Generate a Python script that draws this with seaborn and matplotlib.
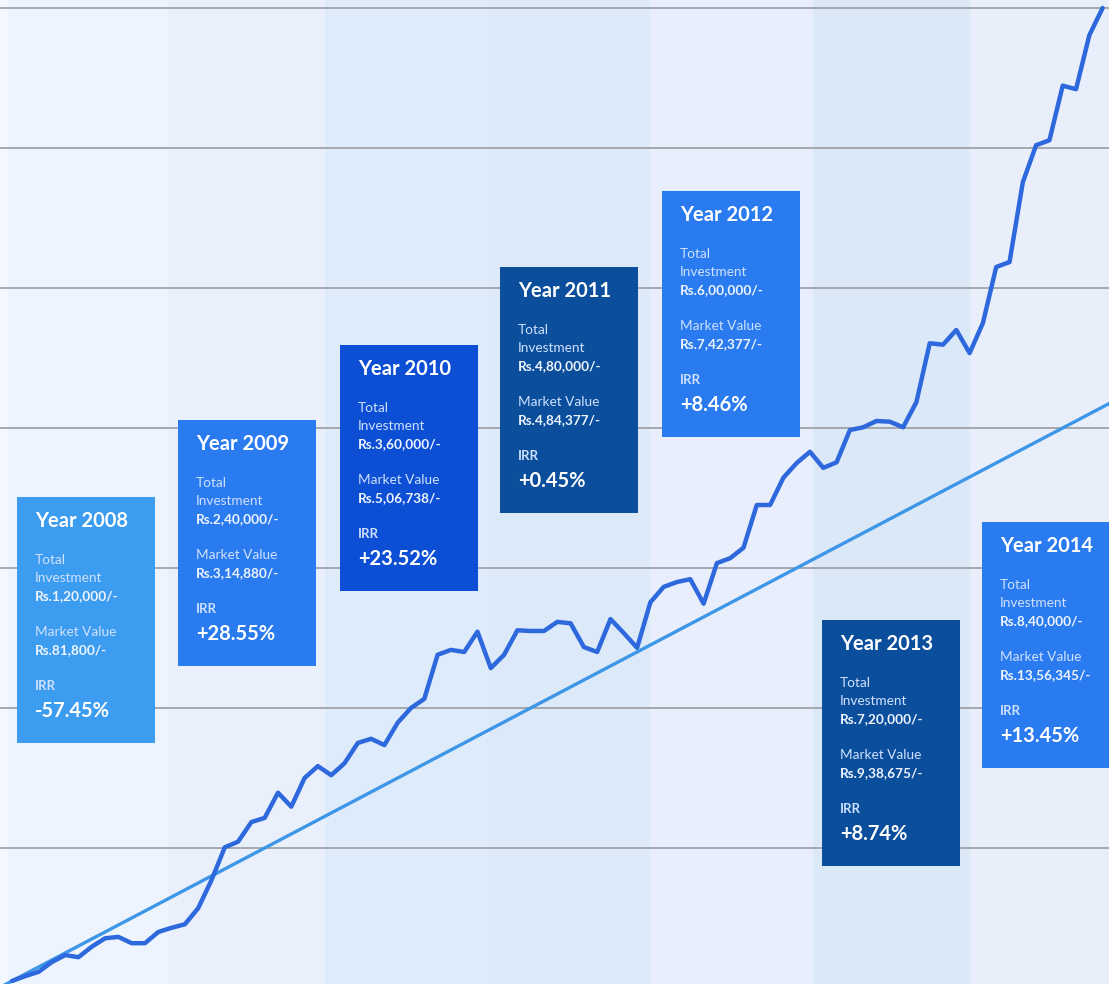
import numpy as np
import pandas as pd
import seaborn as sns
import matplotlib
matplotlib.use("Agg")
import matplotlib.pyplot as plt
from matplotlib.patches import Rectangle

# ---- data ---------------------------------------------------------------
years = [2008, 2009, 2010, 2011, 2012, 2013, 2014]

# cumulative SIP investment at each year end (Rs. lakh), month 0 .. 84
invest_months = [0, 12, 24, 36, 48, 60, 72, 84]
invest_lakh = [0.0, 1.2, 2.4, 3.6, 4.8, 6.0, 7.2, 8.4]

# monthly market value of the portfolio (Rs. lakh), months 1 .. 83
market_lakh = [
    0.10, 0.17, 0.23, 0.37, 0.47, 0.44, 0.59, 0.71, 0.73, 0.64, 0.64, 0.80,
    0.86, 0.91, 1.14, 1.54, 2.01, 2.09, 2.37, 2.43, 2.79, 2.59, 3.00, 3.17,
    3.04, 3.21, 3.50, 3.56, 3.47, 3.79, 4.00, 4.13, 4.76, 4.83, 4.80, 5.09,
    4.57, 4.76, 5.11, 5.10, 5.10, 5.23, 5.21, 4.87, 4.80, 5.27, 5.07, 4.86,
    5.51, 5.73, 5.80, 5.84, 5.49, 6.07, 6.14, 6.29, 6.90, 6.90, 7.29, 7.50,
    7.66, 7.43, 7.51, 7.97, 8.01, 8.10, 8.09, 8.01, 8.37, 9.21, 9.19, 9.40,
    9.07, 9.50, 10.30, 10.37, 11.51, 12.04, 12.11, 12.89, 12.84, 13.61, 14.00,
]
market_months = list(range(1, len(market_lakh) + 1))

total_investment = ["Rs.1,20,000/-", "Rs.2,40,000/-", "Rs.3,60,000/-", "Rs.4,80,000/-",
                    "Rs.6,00,000/-", "Rs.7,20,000/-", "Rs.8,40,000/-"]
market_value = ["Rs.81,800/-", "Rs.3,14,880/-", "Rs.5,06,738/-", "Rs.4,84,377/-",
                "Rs.7,42,377/-", "Rs.9,38,675/-", "Rs.13,56,345/-"]
irr = ["-57.45%", "+28.55%", "+23.52%", "+0.45%", "+8.46%", "+8.74%", "+13.45%"]

# ---- styling --------------------------------------------------------------
sns.set_theme(style="white")
plt.rcParams["font.family"] = ["Lato", "DejaVu Sans"]

W, H = 1109, 984
fig = plt.figure(figsize=(W / 100, H / 100), dpi=100)
ax = fig.add_axes([0, 0, 1, 1])
ax.set_facecolor("#f4f8fe")

x0, x1 = 0.1, 83.48
y0, y1 = 0.057, 14.114
ax.set_xlim(x0, x1)
ax.set_ylim(y0, y1)

# alternating year bands
band_edges = [0.7, 12.73, 24.5, 36.9, 49.0, 61.2, 73.0, 85.0]
band_colors = ["#eef4fd", "#e9f0fc", "#deebfa", "#dbe9f9", "#e8eefb", "#dbe8f8", "#e9eefb"]
for i, c in enumerate(band_colors):
    ax.axvspan(band_edges[i], band_edges[i + 1], color=c, lw=0, zorder=0)

# horizontal gridlines every 2 lakh
for g in range(2, 16, 2):
    ax.axhline(g, color="#9fa3a9", lw=1.3, zorder=1)

inv_df = pd.DataFrame({"month": invest_months, "value": invest_lakh})
mkt_df = pd.DataFrame({"month": market_months, "value": market_lakh})

sns.lineplot(data=inv_df, x="month", y="value", ax=ax, color="#3d96e6", lw=2.4, zorder=3)
sns.lineplot(data=mkt_df, x="month", y="value", ax=ax, color="#2d68dd", lw=3.2, zorder=4)

ax.set_xlabel("")
ax.set_ylabel("")
ax.set_xticks([])
ax.set_yticks([])
for s in ax.spines.values():
    s.set_visible(False)

# ---- info boxes -----------------------------------------------------------
box_pos = [(17, 497), (178, 420), (340, 345), (500, 267), (662, 191), (822, 620), (982, 522)]
box_colors = ["#3c9cf0", "#2a7bf0", "#0c4ed4", "#0b4e9c", "#2a7bf0", "#0b4e9c", "#2a7bf0"]
bw, bh = 138, 246


def fx(px):
    return px / W


def fy(py):
    return 1 - py / H


for i, yr in enumerate(years):
    left, top = box_pos[i]
    ax.add_patch(Rectangle((fx(left), fy(top + bh)), bw / W, bh / H,
                           transform=ax.transAxes, facecolor=box_colors[i],
                           edgecolor="none", zorder=6))
    tx = fx(left + 18)
    lab = dict(transform=ax.transAxes, ha="left", va="center", zorder=7)
    ax.text(tx, fy(top + 24), f"Year {yr}", color="white", fontsize=14.5,
            fontweight="bold", **lab)
    ax.text(tx, fy(top + 63), "Total", color="#cfe1ff", fontsize=9.8, **lab)
    ax.text(tx, fy(top + 81), "Investment", color="#cfe1ff", fontsize=9.8, **lab)
    ax.text(tx, fy(top + 99), total_investment[i], color="#eef4ff", fontsize=9.8,
            fontweight="bold", **lab)
    ax.text(tx, fy(top + 135), "Market Value", color="#cfe1ff", fontsize=9.8, **lab)
    ax.text(tx, fy(top + 153), market_value[i], color="#eef4ff", fontsize=9.8,
            fontweight="bold", **lab)
    ax.text(tx, fy(top + 189), "IRR", color="#cfe1ff", fontsize=9.5,
            fontweight="bold", **lab)
    ax.text(tx, fy(top + 214), irr[i], color="white", fontsize=14.5,
            fontweight="bold", **lab)

fig.savefig("out.png", dpi=100)
